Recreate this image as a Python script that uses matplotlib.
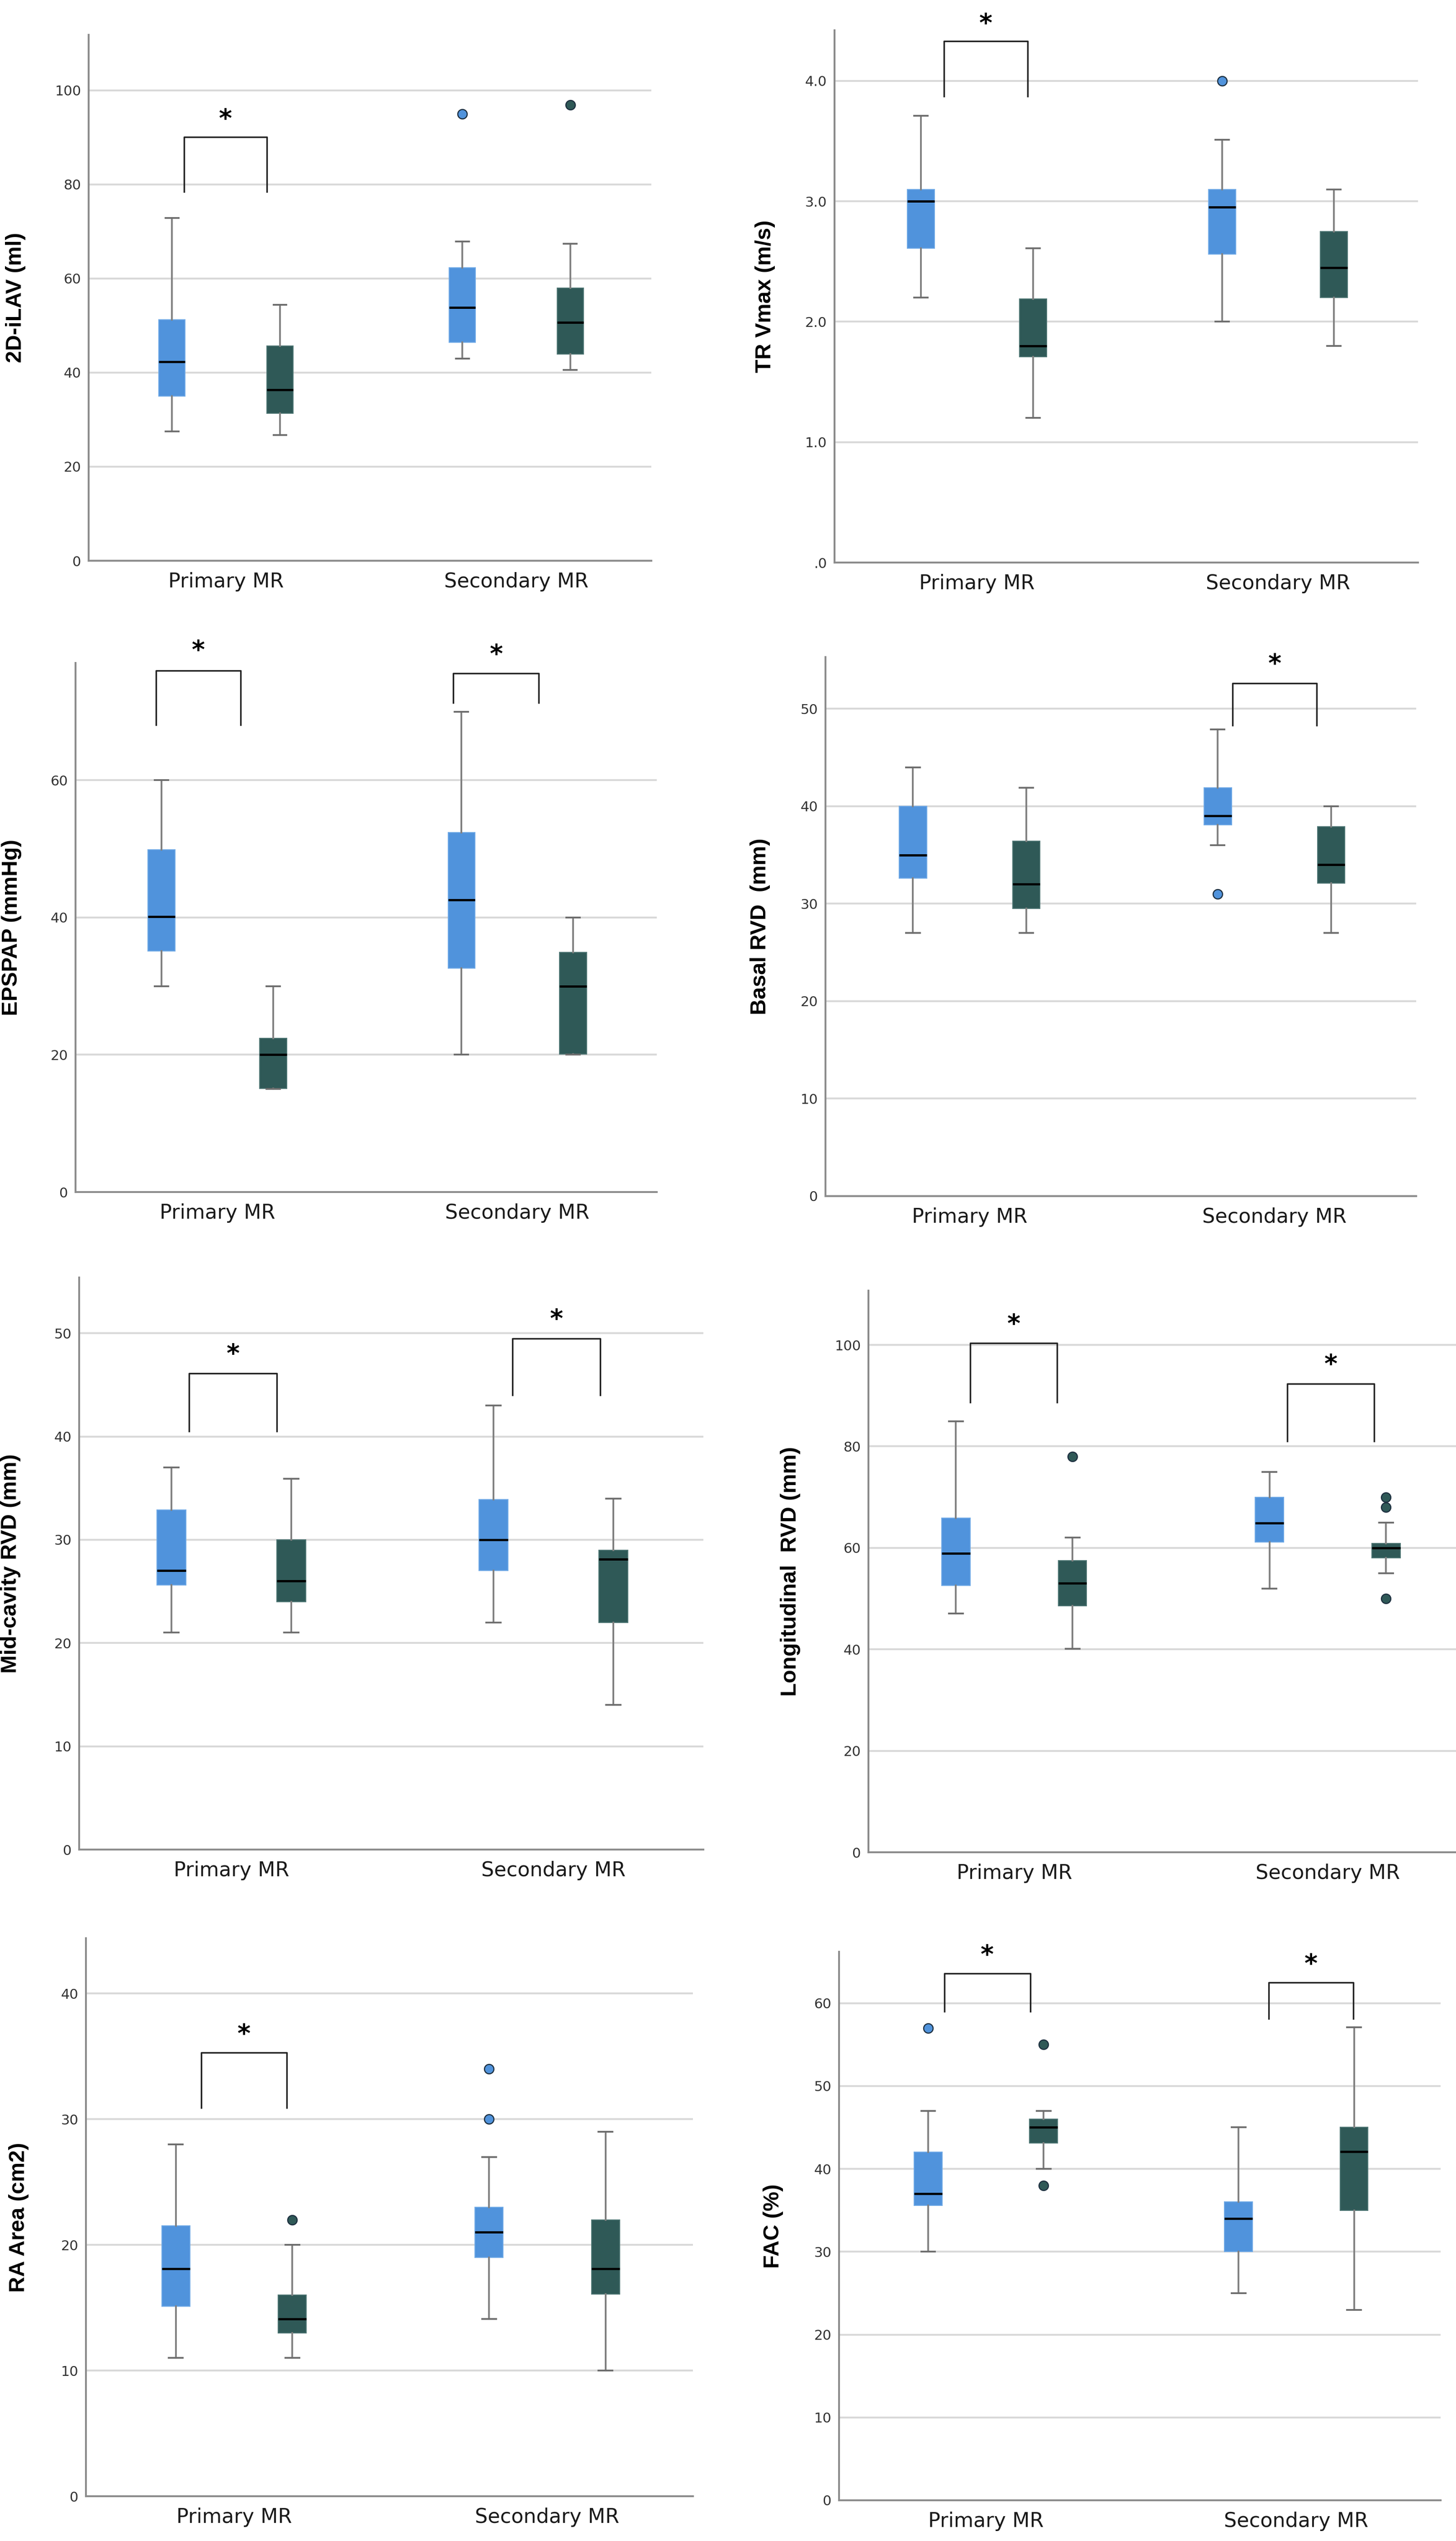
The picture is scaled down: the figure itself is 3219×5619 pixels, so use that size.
import matplotlib
matplotlib.use('Agg')
import matplotlib.pyplot as plt

# Categories on the x axis
GROUPS = ['Primary MR', 'Secondary MR']

# Five-number summaries per group: [low whisker, Q1, median, Q3, high whisker]
# "BLUE" is the first (light blue) box of each group, "DARK" the second (dark teal) one.
ILAV_BLUE = [[27.5, 35.0, 42.3, 51.2, 72.9], [43.0, 46.4, 53.8, 62.3, 67.9]]
ILAV_DARK = [[26.7, 31.3, 36.3, 45.7, 54.4], [40.6, 43.9, 50.7, 58.0, 67.4]]
ILAV_OUT_BLUE = [[], [95.0]]
ILAV_OUT_DARK = [[], [96.9]]

TRV_BLUE = [[2.2, 2.61, 3.0, 3.1, 3.71], [2.0, 2.56, 2.95, 3.1, 3.51]]
TRV_DARK = [[1.2, 1.71, 1.8, 2.19, 2.61], [1.8, 2.2, 2.45, 2.75, 3.1]]
TRV_OUT_BLUE = [[], [4.0]]
TRV_OUT_DARK = [[], []]

EPSPAP_BLUE = [[30.0, 35.1, 40.1, 49.9, 60.0], [20.0, 32.6, 42.6, 52.4, 70.0]]
EPSPAP_DARK = [[15.0, 15.1, 20.0, 22.4, 30.0], [20.0, 20.1, 30.0, 34.9, 40.0]]
EPSPAP_OUT_BLUE = [[], []]
EPSPAP_OUT_DARK = [[], []]

BASAL_BLUE = [[27.0, 32.6, 35.0, 40.0, 44.0], [36.0, 38.1, 39.0, 41.9, 47.9]]
BASAL_DARK = [[27.0, 29.5, 32.0, 36.4, 41.9], [27.0, 32.1, 34.0, 37.9, 40.0]]
BASAL_OUT_BLUE = [[], [31.0]]
BASAL_OUT_DARK = [[], []]

MID_BLUE = [[21.0, 25.6, 27.0, 32.9, 37.0], [22.0, 27.0, 30.0, 33.9, 43.0]]
MID_DARK = [[21.0, 24.0, 26.0, 30.0, 35.9], [14.0, 22.0, 28.1, 29.0, 34.0]]
MID_OUT_BLUE = [[], []]
MID_OUT_DARK = [[], []]

LONG_BLUE = [[47.1, 52.6, 58.9, 65.9, 84.9], [52.0, 61.1, 64.9, 70.0, 75.0]]
LONG_DARK = [[40.1, 48.6, 53.0, 57.5, 62.0], [55.0, 58.0, 60.0, 60.9, 65.0]]
LONG_OUT_BLUE = [[], []]
LONG_OUT_DARK = [[78.0], [70.0, 68.0, 50.0]]

RA_BLUE = [[11.0, 15.1, 18.1, 21.5, 28.0], [14.1, 19.0, 21.0, 23.0, 27.0]]
RA_DARK = [[11.0, 13.0, 14.1, 16.0, 20.0], [10.0, 16.1, 18.1, 22.0, 29.0]]
RA_OUT_BLUE = [[], [30.0, 34.0]]
RA_OUT_DARK = [[22.0], []]

FAC_BLUE = [[30.0, 35.6, 37.0, 42.0, 47.0], [25.0, 30.0, 34.0, 36.0, 45.0]]
FAC_DARK = [[40.0, 43.1, 45.0, 46.0, 47.0], [23.0, 35.0, 42.1, 45.0, 57.1]]
FAC_OUT_BLUE = [[57.0], []]
FAC_OUT_DARK = [[55.0, 38.0], []]

# significance brackets: (group index, left offset, right offset, top, legs bottom, star height)
ILAV_SIG = [(0, -0.145, 0.141, 90.1, 78.4, 93.7)]
TRV_SIG = [(0, -0.109, 0.168, 4.33, 3.87, 4.47)]
EPSPAP_SIG = [(0, -0.204, 0.077, 76.0, 68.1, 78.8), (1, -0.213, 0.072, 75.6, 71.3, 78.2)]
BASAL_SIG = [(1, -0.138, 0.139, 52.6, 48.3, 54.5)]
MID_SIG = [(0, -0.132, 0.141, 46.1, 40.5, 47.9), (1, -0.128, 0.145, 49.5, 44.0, 51.3)]
LONG_SIG = [(0, -0.141, 0.137, 100.4, 88.7, 103.9), (1, -0.129, 0.148, 92.3, 81.0, 96.0)]
RA_SIG = [(0, -0.105, 0.168, 35.3, 30.9, 36.7)]
FAC_SIG = [(0, -0.134, 0.143, 63.6, 59.0, 65.7), (1, -0.089, 0.184, 62.5, 58.1, 64.6)]

BLUE = '#5093dc'
DARK = '#2f5957'
W, H = 3219, 5619

# label, blue, dark, outliers, brackets, ymax, tick step, axes box in pixels (l, r, top, bottom)
PANELS = [
    ('2D-iLAV (ml)', ILAV_BLUE, ILAV_DARK, ILAV_OUT_BLUE, ILAV_OUT_DARK, ILAV_SIG,
     111.8, 20, (196, 1440, 77, 1240), 139),
    ('TR Vmax (m/s)', TRV_BLUE, TRV_DARK, TRV_OUT_BLUE, TRV_OUT_DARK, TRV_SIG,
     4.42, 1, (1845, 3135, 67, 1244), 131),
    ('EPSPAP (mmHg)', EPSPAP_BLUE, EPSPAP_DARK, EPSPAP_OUT_BLUE, EPSPAP_OUT_DARK, EPSPAP_SIG,
     77.1, 20, (167, 1452, 1466, 2636), 119),
    ('Basal RVD  (mm)', BASAL_BLUE, BASAL_DARK, BASAL_OUT_BLUE, BASAL_OUT_DARK, BASAL_SIG,
     55.3, 10, (1825, 3131, 1453, 2645), 122),
    ('Mid-cavity RVD (mm)', MID_BLUE, MID_DARK, MID_OUT_BLUE, MID_OUT_DARK, MID_SIG,
     55.4, 10, (175, 1555, 2825, 4090), 129),
    ('Longitudinal  RVD (mm)', LONG_BLUE, LONG_DARK, LONG_OUT_BLUE, LONG_OUT_DARK, LONG_SIG,
     110.7, 20, (1920, 3219, 2854, 4096), 150),
    ('RA Area (cm2)', RA_BLUE, RA_DARK, RA_OUT_BLUE, RA_OUT_DARK, RA_SIG,
     44.4, 10, (190, 1532, 4286, 5520), 126),
    ('FAC (%)', FAC_BLUE, FAC_DARK, FAC_OUT_BLUE, FAC_OUT_DARK, FAC_SIG,
     66.2, 10, (1855, 3185, 4316, 5529), 123),
]


def stats(five, fliers):
    lo, q1, med, q3, hi = five
    return dict(whislo=lo, q1=q1, med=med, q3=q3, whishi=hi, fliers=fliers)


def draw_box(ax, five, fliers, pos, color, edge):
    ax.bxp([stats(five, fliers)], positions=[pos], widths=0.09, capwidths=0.045,
           patch_artist=True, showfliers=True,
           boxprops=dict(facecolor=color, edgecolor=edge, linewidth=1.5),
           medianprops=dict(color='black', linewidth=3.6, solid_capstyle='butt'),
           whiskerprops=dict(color='#808080', linewidth=2.8),
           capprops=dict(color='#6e6e6e', linewidth=2.8),
           flierprops=dict(marker='o', markersize=15, markerfacecolor=color,
                           markeredgecolor='#1e3040', markeredgewidth=1.8))


fig = plt.figure(figsize=(W / 100, H / 100), dpi=100)
fig.patch.set_facecolor('white')

for i, (label, blue, dark, out_b, out_d, sig, ymax, step, box, lab_off) in enumerate(PANELS):
    l, r, t, b = box
    ax = fig.add_axes([l / W, 1 - b / H, (r - l) / W, (b - t) / H])
    if i == 5:
        x0, xw = 0.535, 1.874
    else:
        x0, xw = 0.527, 1.938
    centers = [1, 2]
    for g, c in enumerate(centers):
        draw_box(ax, blue[g], out_b[g], c - 0.186, BLUE, '#6fa9e6')
        draw_box(ax, dark[g], out_d[g], c + 0.186, DARK, '#4d7573')

    ax.set_xlim(x0, x0 + xw)
    ax.set_ylim(0, ymax)
    ticks = [k * step for k in range(int(ymax // step) + 1)]
    ax.set_yticks(ticks)
    if i == 1:
        ax.set_yticklabels(['.0'] + ['%.1f' % v for v in ticks[1:]])
    else:
        ax.set_yticklabels(['%d' % v for v in ticks])
    ax.set_xticks(centers)
    ax.set_xticklabels(GROUPS, fontsize=32, color='#1a1a1a')
    ax.tick_params(axis='y', length=0, pad=12, labelsize=22, labelcolor='#333333')
    ax.tick_params(axis='x', length=0, pad=18)

    ax.yaxis.grid(True, color='#d9d9d9', linewidth=3)
    ax.set_axisbelow(True)
    for side in ['top', 'right']:
        ax.spines[side].set_visible(False)
    for side in ['left', 'bottom']:
        ax.spines[side].set_color('#8c8c8c')
        ax.spines[side].set_linewidth(3)

    ax.set_ylabel(label, fontsize=35, fontweight='bold', family='Liberation Sans')
    ax.yaxis.set_label_coords(-lab_off / (r - l), 0.5)

    for g, dl, dr, ytop, ybot, ystar in sig:
        xl = centers[g] + dl
        xr = centers[g] + dr
        ax.plot([xl, xl, xr, xr], [ybot, ytop, ytop, ybot], color='#222222',
                linewidth=2.5, clip_on=False, zorder=5)
        ax.text((xl + xr) / 2, ystar, '*', ha='center', va='center', fontsize=40,
                fontweight='bold', clip_on=False)

fig.savefig('out.png', dpi=100, facecolor='white')
